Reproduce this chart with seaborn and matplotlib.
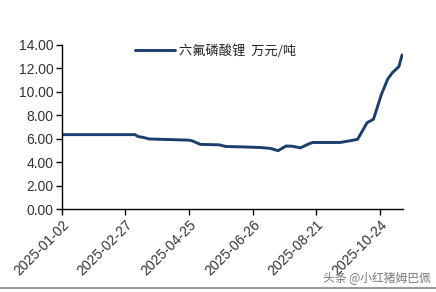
import matplotlib
matplotlib.use("Agg")
import matplotlib.pyplot as plt
import seaborn as sns
import pandas as pd
from matplotlib.lines import Line2D

# ---- data ----
day_index = [0, 46, 48, 51, 55, 80, 82, 87, 99, 103, 115, 125, 131, 136,
             141, 145, 150, 156, 158, 175, 181, 186, 192, 196, 201, 205,
             208, 212, 214]
price = [6.35, 6.35, 6.18, 6.12, 5.98, 5.88, 5.82, 5.52, 5.48, 5.34, 5.30,
         5.25, 5.18, 4.98, 5.38, 5.36, 5.22, 5.60, 5.68, 5.68, 5.82, 5.95,
         7.37, 7.66, 9.78, 11.10, 11.65, 12.15, 13.15]
tick_pos = [0, 40, 80, 120, 160, 200]
tick_labels = ["2025-01-02", "2025-02-27", "2025-04-25", "2025-06-26",
               "2025-08-21", "2025-10-24"]
series_name = "六氟磷酸锂  万元/吨"

df = pd.DataFrame({"idx": day_index, "price": price, "series": series_name})

sns.set_theme(style="white")
plt.rcParams["font.family"] = ["Noto Sans CJK SC", "DejaVu Sans"]

fig = plt.figure(figsize=(4.36, 2.92), dpi=100)
ax = fig.add_axes([0.142, 0.284, 0.782, 0.562])

color = "#1b3e6e"
sns.lineplot(data=df, x="idx", y="price", ax=ax, color=color, linewidth=2.1,
             legend=False)

ax.set_xlim(0, 214.5)
ax.set_ylim(0, 14)
ax.set_yticks([0, 2, 4, 6, 8, 10, 12, 14])
ax.set_yticklabels([f"{v:.2f}" for v in [0, 2, 4, 6, 8, 10, 12, 14]],
                   fontsize=10, color="#333333",
                   family=["Liberation Sans", "DejaVu Sans"])
ax.set_xticks(tick_pos)
ax.set_xticklabels(tick_labels, rotation=45, ha="right",
                   rotation_mode="anchor", fontsize=10, color="#333333",
                   family=["Liberation Sans", "DejaVu Sans"])
ax.set_xlabel("")
ax.set_ylabel("")

for s in ["top", "right"]:
    ax.spines[s].set_visible(False)
for s in ["left", "bottom"]:
    ax.spines[s].set_color("black")
    ax.spines[s].set_linewidth(1.0)
ax.tick_params(axis="both", which="major", direction="out", length=4,
               width=1, color="black", left=True, bottom=True, pad=2)

handle = Line2D([0], [0], color=color, linewidth=2.1)
ax.legend([handle], [series_name], loc="upper center",
          bbox_to_anchor=(0.45, 1.075), frameon=False, fontsize=9.5,
          handlelength=3.0, handletextpad=0.3)

fig.text(0.988, 0.049, "头条 @小红猪姆巴佩", ha="right", va="center",
         fontsize=8.5, color="#777777")
fig.add_artist(Line2D([0, 1], [0.012, 0.012], transform=fig.transFigure,
                      color="#9a9a9a", linewidth=1.5))

fig.savefig("out.png", dpi=100)
